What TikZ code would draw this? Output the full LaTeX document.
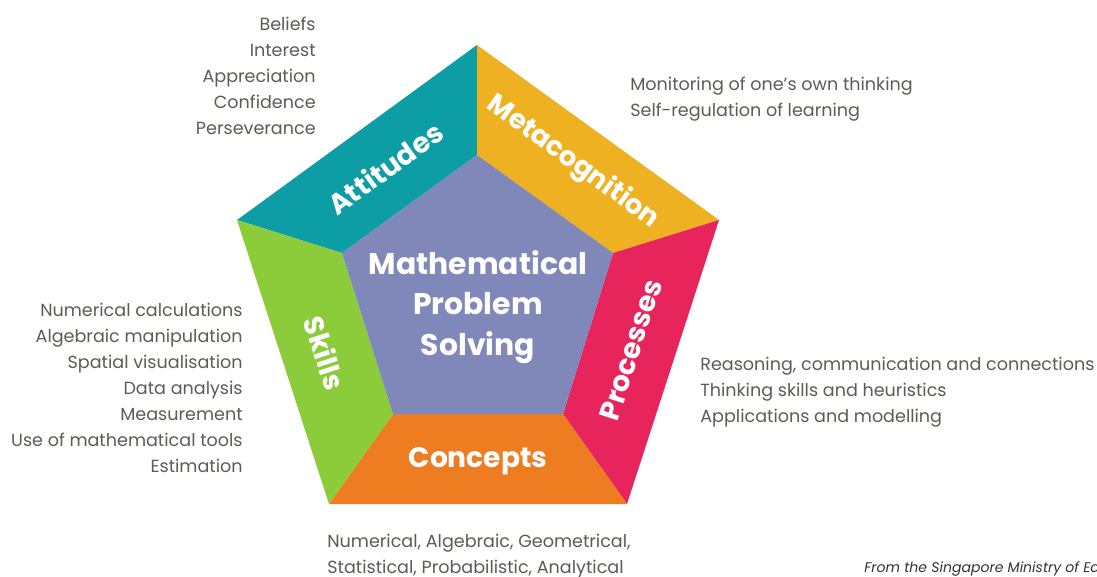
\documentclass[tikz,border=0pt]{standalone}
\usepackage{fontspec}
\setmainfont{Poppins}
\definecolor{textgray}{RGB}{90,94,82}
\definecolor{attcol}{RGB}{12,157,165}
\definecolor{metacol}{RGB}{237,177,34}
\definecolor{proccol}{RGB}{232,36,92}
\definecolor{conccol}{RGB}{238,125,33}
\definecolor{skillcol}{RGB}{140,203,58}
\definecolor{corecol}{RGB}{128,136,185}
\tikzset{
    listtext/.style={font=\fontsize{10}{14.75}\selectfont, text=textgray, inner sep=0pt},
    seglabel/.style={font=\fontsize{16}{18}\selectfont\bfseries, text=white, inner sep=0pt},
}
\begin{document}
\begin{tikzpicture}[x=0.02cm,y=-0.02cm]
    %Frame
    \clip (0,0) rectangle (1097,576);
    \fill[white] (0,0) rectangle (1097,576);
    %Outer corners
    \coordinate (otop) at (477,45);
    \coordinate (oright) at (719,220);
    \coordinate (obr) at (627,504);
    \coordinate (obl) at (329,504);
    \coordinate (oleft) at (237,220);
    %Inner corners
    \coordinate (itop) at (477,155);
    \coordinate (iright) at (613,253);
    \coordinate (ibr) at (563,414);
    \coordinate (ibl) at (393,414);
    \coordinate (ileft) at (342,253);
    %Segments
    \fill[attcol] (otop) -- (oleft) -- (ileft) -- (itop) -- cycle;
    \fill[metacol] (otop) -- (oright) -- (iright) -- (itop) -- cycle;
    \fill[proccol] (oright) -- (obr) -- (ibr) -- (iright) -- cycle;
    \fill[conccol] (obr) -- (obl) -- (ibl) -- (ibr) -- cycle;
    \fill[skillcol] (obl) -- (oleft) -- (ileft) -- (ibl) -- cycle;
    %Core
    \fill[corecol] (itop) -- (iright) -- (ibr) -- (ibl) -- (ileft) -- cycle;
    \node[seglabel, align=center, font=\fontsize{17}{23.2}\selectfont\bfseries] (core) at (478,307)
        {Mathematical\\Problem\\Solving};
    %Segment labels
    \node[seglabel, rotate=36] (attitudes) at (385,168) {Attitudes};
    \node[seglabel, font=\fontsize{15.5}{18}\selectfont\bfseries, rotate=-36] (metacognition) at (573,162) {Metacognition};
    \node[seglabel, rotate=72] (processes) at (631,350) {Processes};
    \node[seglabel] (concepts) at (478,461) {Concepts};
    \node[seglabel, rotate=-72] (skills) at (325,353) {Skills};
    %Lists
    \node[listtext, anchor=east, align=right] (attlist) at (316,76)
        {Beliefs\\Interest\\Appreciation\\Confidence\\Perseverance};
    \node[listtext, anchor=west, align=left] (metalist) at (630,99)
        {Monitoring of one’s own thinking\\Self-regulation of learning};
    \node[listtext, anchor=east, align=right] (skilllist) at (243,388)
        {Numerical calculations\\Algebraic manipulation\\Spatial visualisation\\Data analysis\\Measurement\\Use of mathematical tools\\Estimation};
    \node[listtext, anchor=west, align=left] (proclist) at (700,392)
        {Reasoning, communication and connections\\Thinking skills and heuristics\\Applications and modelling};
    \node[listtext, anchor=west, align=left] (conclist) at (327,556)
        {Numerical, Algebraic, Geometrical,\\Statistical, Probabilistic, Analytical};
    %Source
    \node[listtext, anchor=west, font=\fontsize{8}{10}\selectfont\itshape, text=black!80] (source) at (864,569)
        {From the Singapore Ministry of Education};
\end{tikzpicture}
\end{document}
